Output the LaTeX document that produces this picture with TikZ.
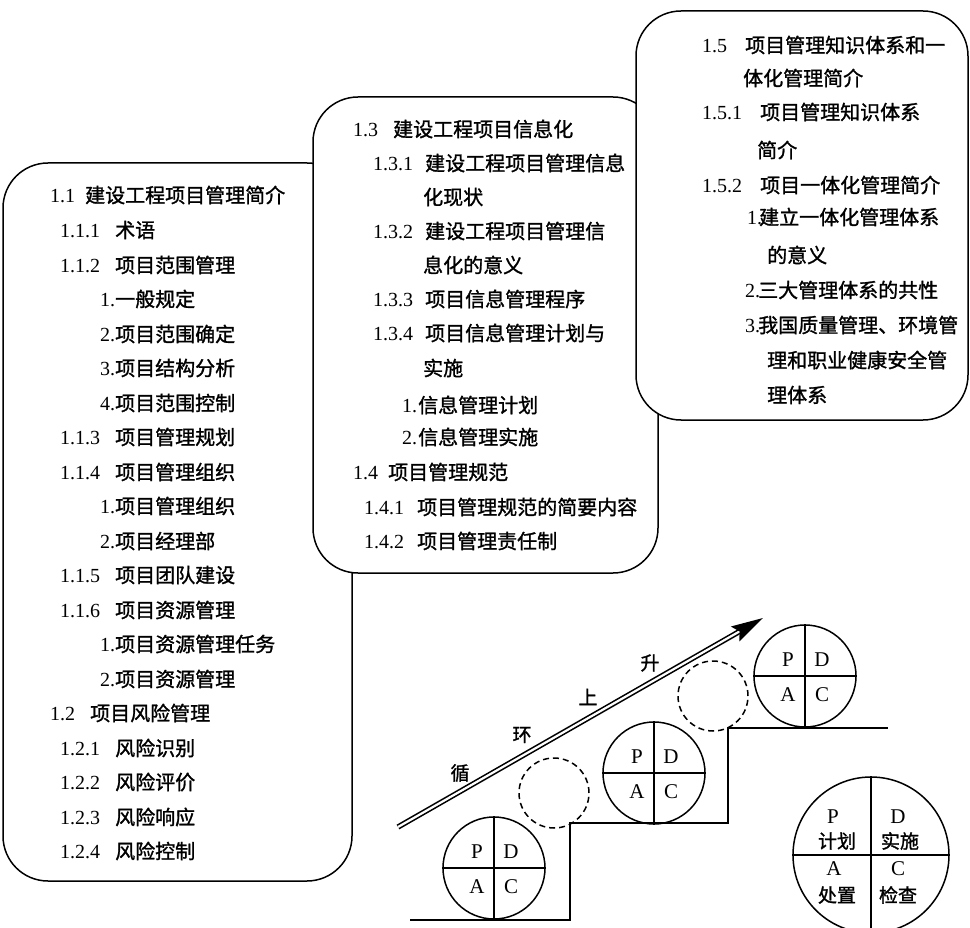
\documentclass[tikz,border=0pt]{standalone}
\usepackage{fontspec}
\setmainfont{Liberation Serif}
\newfontfamily\cjk[FakeBold=1.3]{Noto Sans CJK SC}
\usetikzlibrary{arrows.meta}
\tikzset{
 box/.style={draw, fill=white, line width=1.5pt, rounded corners=45pt},
 txt/.style={anchor=west, inner sep=0pt, font=\fontsize{20}{24}\selectfont},
 pd/.style={circle, draw, line width=1.5pt, inner sep=0pt, minimum size=102pt},
 dc/.style={circle, draw, line width=1.5pt, inner sep=0pt, minimum size=70pt, dash pattern=on 6pt off 4pt},
 lt/.style={font=\fontsize{21}{22}\selectfont, inner sep=0pt},
 ct/.style={font=\fontsize{19}{20}\selectfont, inner sep=0pt},
 ln/.style={line width=1.5pt},
}
\newcommand\rw[3]{\makebox[#1pt][l]{#2}{\cjk #3}}
\begin{document}
\begin{tikzpicture}[x=1pt,y=-1pt]
\useasboundingbox (0,0) rectangle (970,928);
\clip (0,0) rectangle (970,928);
% boxes
\draw[box] (3,163) rectangle (352,881);
\draw[box] (313,97) rectangle (658,573);
\draw[box] (636,11) rectangle (968,420);
% left box text
\node[txt] (a1) at (50,195) {\rw{35}{1.1}{建设工程项目管理简介}};
\node[txt] (a2) at (60,230) {\rw{55}{1.1.1}{术语}};
\node[txt] (a3) at (60,265) {\rw{55}{1.1.2}{项目范围管理}};
\node[txt] (a4) at (100,299) {\rw{15}{1.}{一般规定}};
\node[txt] (a5) at (100,334) {\rw{15}{2.}{项目范围确定}};
\node[txt] (a6) at (100,368) {\rw{15}{3.}{项目结构分析}};
\node[txt] (a7) at (100,403) {\rw{15}{4.}{项目范围控制}};
\node[txt] (a8) at (60,437) {\rw{55}{1.1.3}{项目管理规划}};
\node[txt] (a9) at (60,472) {\rw{55}{1.1.4}{项目管理组织}};
\node[txt] (a10) at (100,506) {\rw{15}{1.}{项目管理组织}};
\node[txt] (a11) at (100,541) {\rw{15}{2.}{项目经理部}};
\node[txt] (a12) at (60,575) {\rw{55}{1.1.5}{项目团队建设}};
\node[txt] (a13) at (60,610) {\rw{55}{1.1.6}{项目资源管理}};
\node[txt] (a14) at (100,644) {\rw{15}{1.}{项目资源管理任务}};
\node[txt] (a15) at (100,679) {\rw{15}{2.}{项目资源管理}};
\node[txt] (a16) at (50,713) {\rw{40}{1.2}{项目风险管理}};
\node[txt] (a17) at (60,748) {\rw{55}{1.2.1}{风险识别}};
\node[txt] (a18) at (60,782) {\rw{55}{1.2.2}{风险评价}};
\node[txt] (a19) at (60,817) {\rw{55}{1.2.3}{风险响应}};
\node[txt] (a20) at (60,851) {\rw{55}{1.2.4}{风险控制}};
% middle box text
\node[txt] (b1) at (353,129) {\rw{40}{1.3}{建设工程项目信息化}};
\node[txt] (b2) at (373,163) {\rw{52}{1.3.1}{建设工程项目管理信息}};
\node[txt] (b3) at (423,197) {\cjk 化现状};
\node[txt] (b4) at (373,231) {\rw{52}{1.3.2}{建设工程项目管理信}};
\node[txt] (b5) at (423,265) {\cjk 息化的意义};
\node[txt] (b6) at (373,299) {\rw{52}{1.3.3}{项目信息管理程序}};
\node[txt] (b7) at (373,333) {\rw{52}{1.3.4}{项目信息管理计划与}};
\node[txt] (b8) at (423,368) {\cjk 实施};
\node[txt] (b9) at (402,405) {\rw{16}{1.}{信息管理计划}};
\node[txt] (b10) at (402,437) {\rw{16}{2.}{信息管理实施}};
\node[txt] (b11) at (353,472) {\rw{35}{1.4}{项目管理规范}};
\node[txt] (b12) at (364,507) {\rw{53}{1.4.1}{项目管理规范的简要内容}};
\node[txt] (b13) at (364,541) {\rw{53}{1.4.2}{项目管理责任制}};
% right box text
\node[txt] (c1t) at (702,45) {\rw{43}{1.5}{项目管理知识体系和一}};
\node[txt] (c2t) at (743,78) {\cjk 体化管理简介};
\node[txt] (c3t) at (702,112) {\rw{58}{1.5.1}{项目管理知识体系}};
\node[txt] (c4t) at (757,150) {\cjk 简介};
\node[txt] (c5t) at (702,185) {\rw{58}{1.5.2}{项目一体化管理简介}};
\node[txt] (c6t) at (747,217) {\rw{12}{1.}{建立一体化管理体系}};
\node[txt] (c7t) at (767,255) {\cjk 的意义};
\node[txt] (c8t) at (745,290) {\rw{13}{2.}{三大管理体系的共性}};
\node[txt] (c9t) at (745,325) {\rw{13}{3.}{我国质量管理、环境管}};
\node[txt] (c10t) at (767,360) {\cjk 理和职业健康安全管};
\node[txt] (c11t) at (767,395) {\cjk 理体系};
% staircase
\coordinate (s0) at (410,920);
\coordinate (s1) at (570,920);
\coordinate (s2) at (570,823);
\coordinate (s3) at (728,823);
\coordinate (s4) at (728,728);
\coordinate (s5) at (888,728);
\draw[ln] (s0) -- (s1) -- (s2) -- (s3) -- (s4) -- (s5);
% PDCA circles
\foreach \n/\x/\y in {p1/494/868, p2/654/773, p3/805/676}{
  \node[pd] (\n) at (\x,\y) {};
  \draw[ln] (\n.north) -- (\n.south) (\n.west) -- (\n.east);
  \node[lt] (\n P) at (\x-17,\y-16) {P};
  \node[lt] (\n D) at (\x+17,\y-16) {D};
  \node[lt] (\n A) at (\x-17,\y+19) {A};
  \node[lt] (\n C) at (\x+17,\y+19) {C};
}
\node[dc] (d1) at (554,793) {};
\node[dc] (d2) at (713,696) {};
% arrow
\coordinate (ar0) at (398,827);
\coordinate (ar1) at (763,618);
\draw[double, double distance=2.2pt, line width=1.6pt, -{Stealth[length=32pt,width=17pt,inset=5pt]}] (ar0) -- (ar1);
\node[ct] (w1) at (460,773) {\cjk 循};
\node[ct] (w2) at (522,735) {\cjk 环};
\node[ct] (w3) at (588,697) {\cjk 上};
\node[ct] (w4) at (650,663) {\cjk 升};
% big circle
\node[pd, minimum size=156pt] (bg) at (871,855) {};
\draw[ln] (bg.north) -- (bg.south) (bg.west) -- (bg.east);
\node[lt] (bP) at (833,817) {P};
\node[ct] (bPt) at (837,841) {\cjk 计划};
\node[lt] (bD) at (898,817) {D};
\node[ct] (bDt) at (900,841) {\cjk 实施};
\node[lt] (bA) at (834,869) {A};
\node[ct] (bAt) at (837,895) {\cjk 处置};
\node[lt] (bC) at (898,869) {C};
\node[ct] (bCt) at (898,895) {\cjk 检查};
\end{tikzpicture}
\end{document}
